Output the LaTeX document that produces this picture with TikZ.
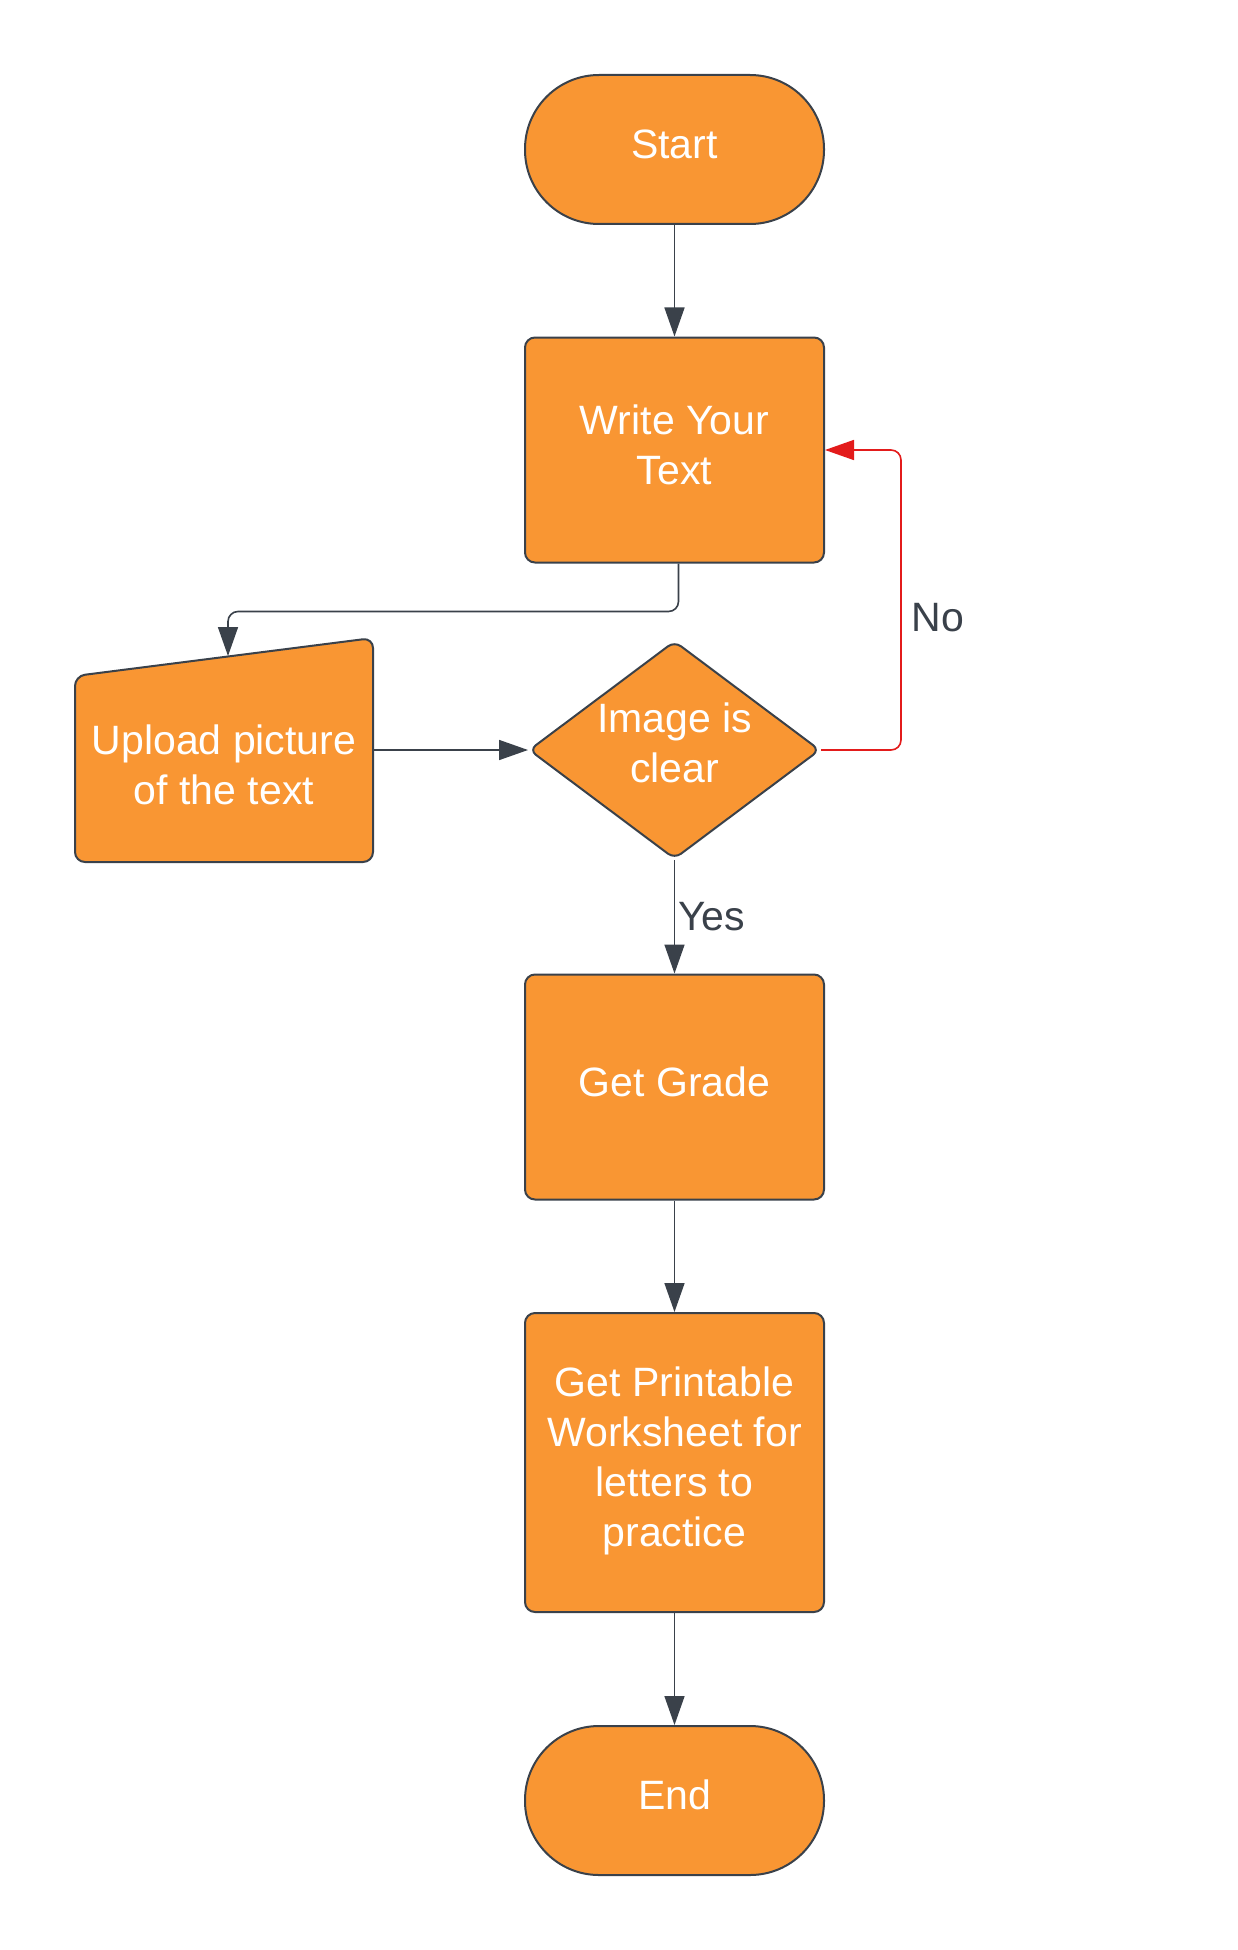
\documentclass[tikz,border=0pt]{standalone}
\usepackage{fontspec}
\setmainfont{Liberation Sans}
\usetikzlibrary{shapes.geometric}
\usetikzlibrary{arrows.meta}

\definecolor{boxfill}{HTML}{F99633}
\definecolor{edge}{HTML}{3A414A}
\definecolor{noline}{HTML}{E31B1B}

\begin{document}
\begin{tikzpicture}[x=1pt,y=-1pt,
  base/.style={draw=edge,line width=2pt,fill=boxfill,text=white,font=\fontsize{41}{50}\selectfont,align=center,inner sep=0pt,text depth=11pt},
  term/.style={base,minimum width=299pt,minimum height=149pt,rounded corners=74pt},
  proc/.style={base,minimum width=299pt,minimum height=225pt,rounded corners=10pt},
  decide/.style={base,diamond,minimum width=291pt,minimum height=218pt,rounded corners=8pt},
  link/.style={draw=edge,line width=1.6pt,-{Triangle[length=29pt,width=20pt]},rounded corners=10pt},
  nolink/.style={link,draw=noline,-{Triangle[length=29pt,width=20pt,fill=noline]}},
  lbl/.style={text=edge,font=\fontsize{41}{50}\selectfont}]
\path[fill=white] (0,0) rectangle (1238,1950);
\node[term] (start) at (674.5,149.5) {Start};
\node[proc] (write) at (674.5,450) {Write Your\\Text};
% manual input shape for the upload step
\draw[base,rounded corners=10pt] (75,676) -- (373,638) -- (373,862) -- (75,862) -- cycle;
\node[base,draw=none,fill=none,minimum width=298pt,text depth=0pt] (upload) at (224,765) {Upload picture\\of the text};
\coordinate (upin) at (228,656);
\node[decide] (dec) at (674.5,750) {};
\node[text=white,font=\fontsize{41}{50}\selectfont,align=center] (dectext) at (674.5,743) {Image is\\clear};
\node[proc] (grade) at (674.5,1087) {Get Grade};
\node[proc,minimum height=299pt] (sheet) at (674.5,1462.5) {Get Printable\\Worksheet for\\letters to\\practice};
\node[term] (end) at (674.5,1800.5) {End};

\draw[link] (start) -- (write);
\draw[link] ([xshift=4pt]write.south) -- ++(0,48) -| (upin);
\draw[link] (dec.west -| upload.east) -- (dec.west);
\draw[nolink] (dec.east) -- ++(80,0) |- node[lbl,right,pos=0.22,inner sep=10pt] {No} (write.east);
\draw[link] (dec.south) -- node[lbl,right,inner sep=3pt] {Yes} (grade.north);
\draw[link] (grade) -- (sheet);
\draw[link] (sheet) -- (end);
\end{tikzpicture}
\end{document}
